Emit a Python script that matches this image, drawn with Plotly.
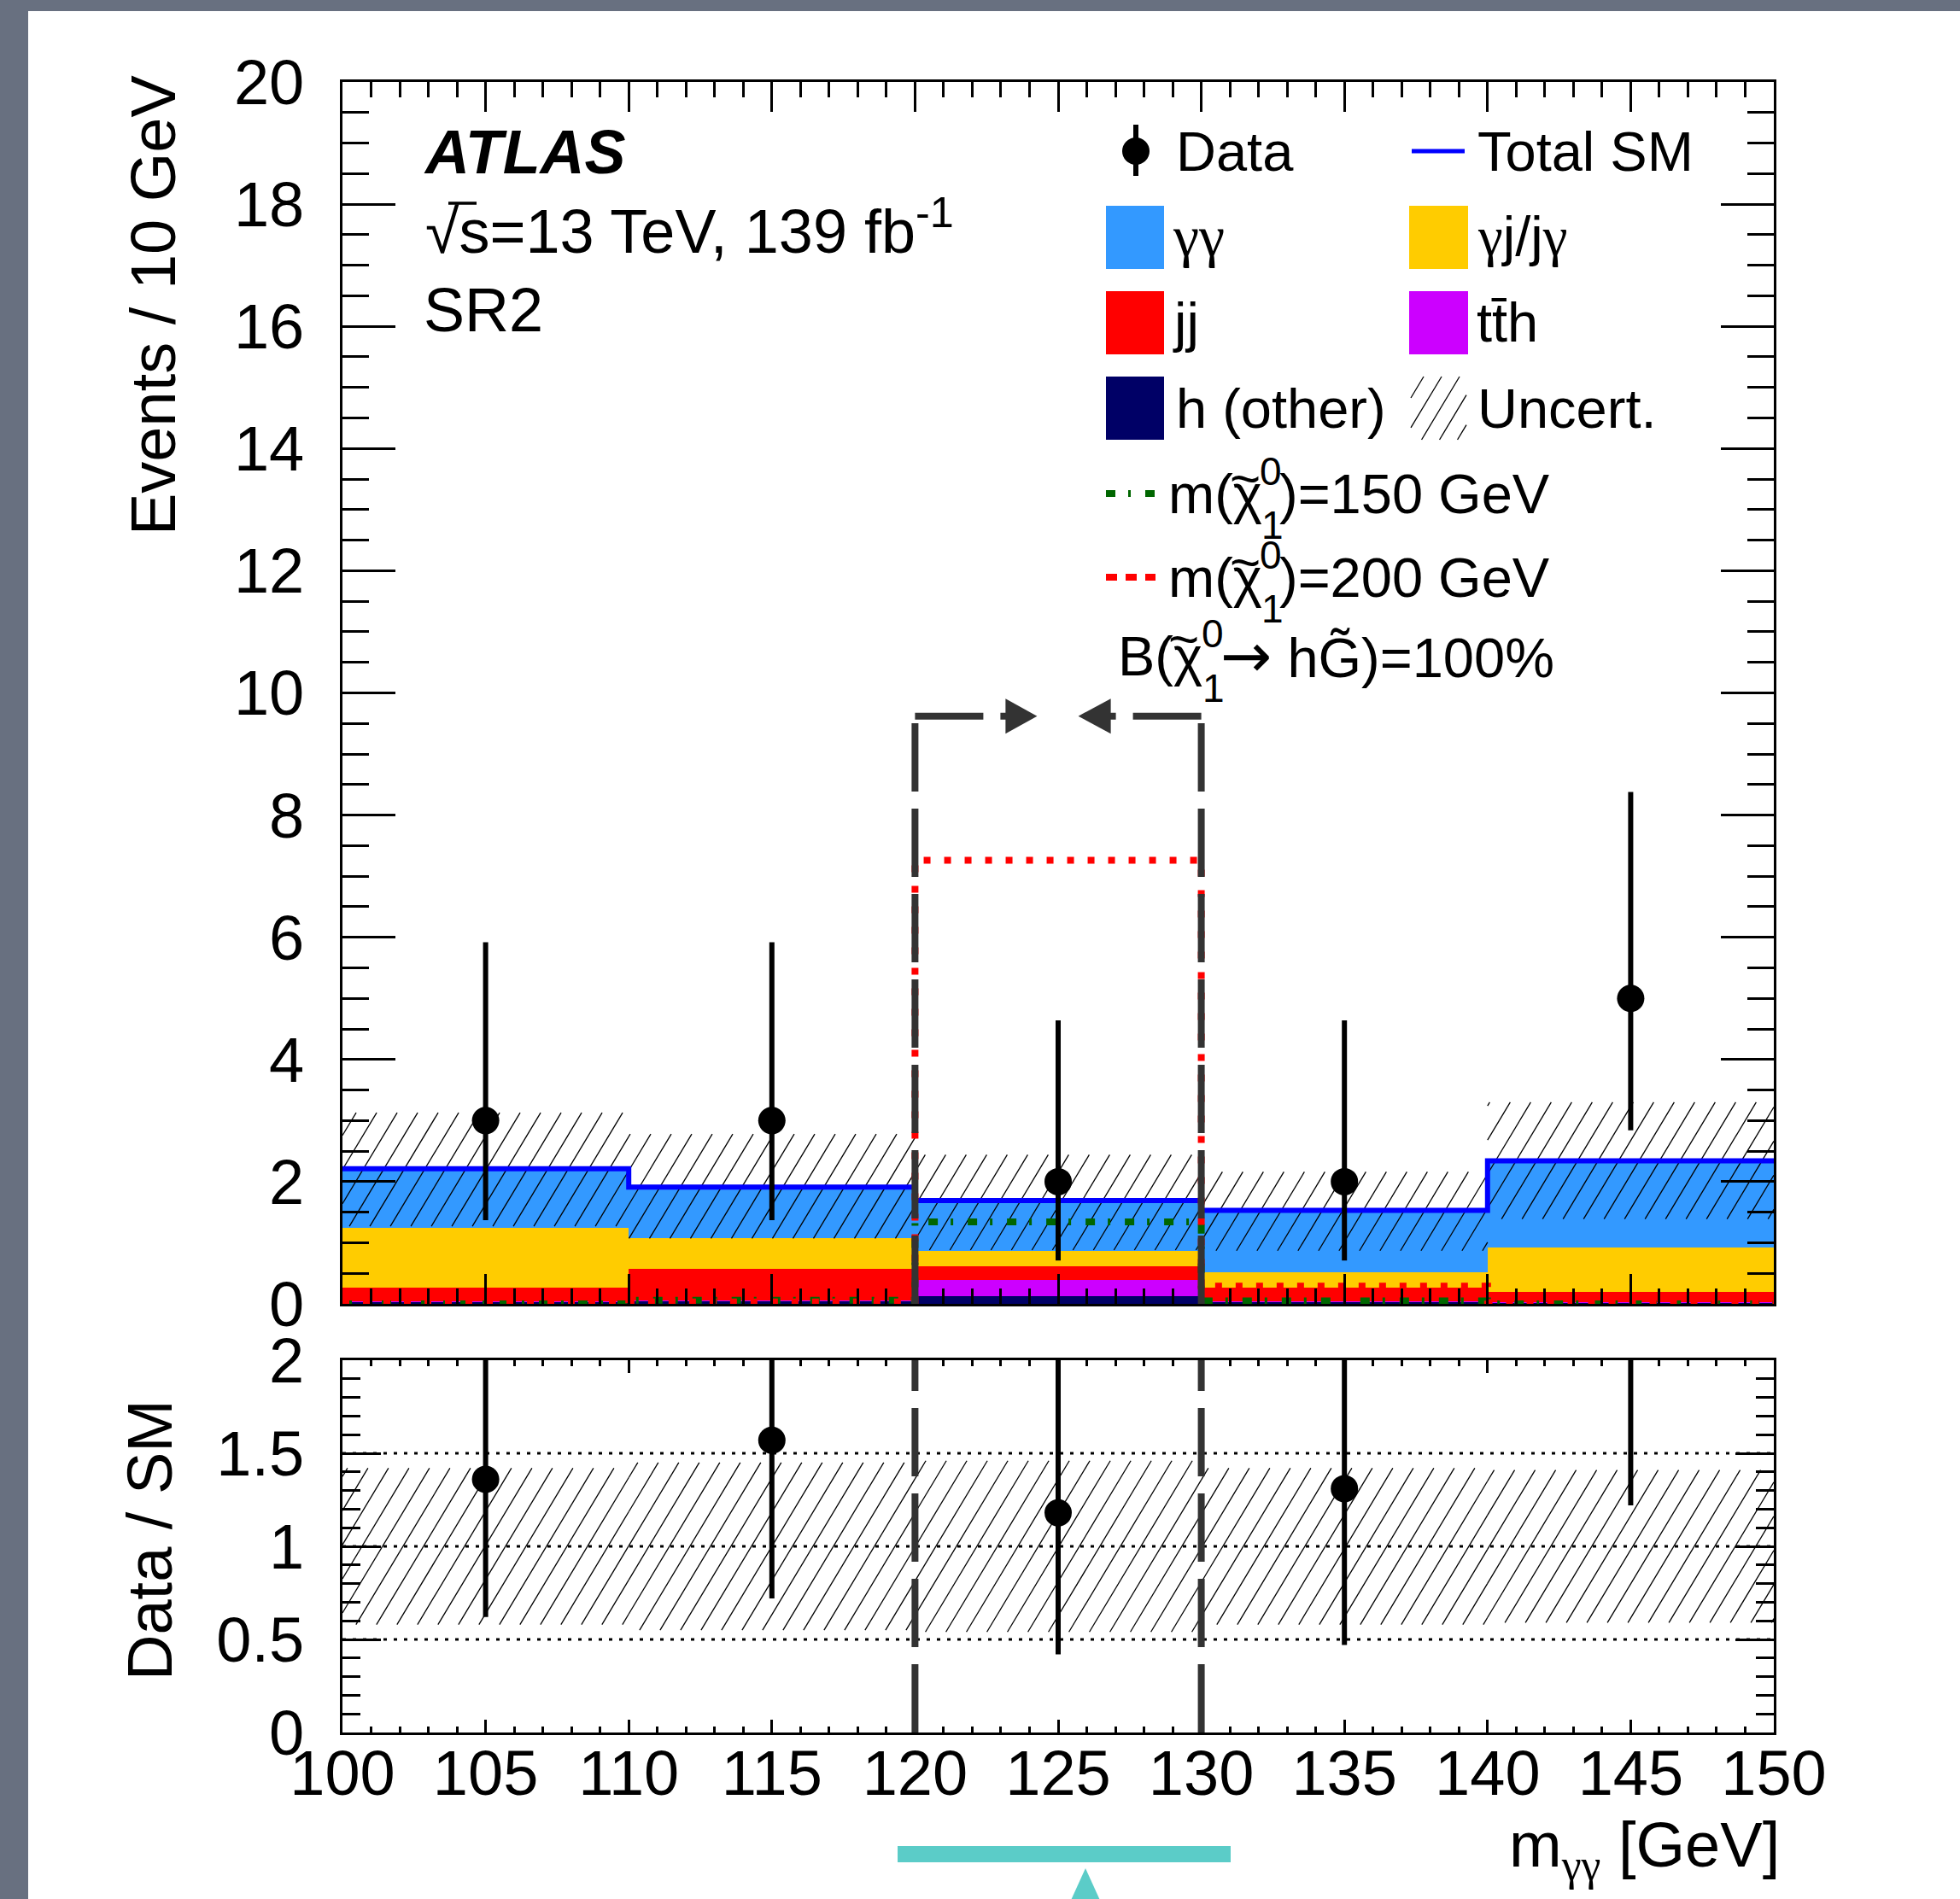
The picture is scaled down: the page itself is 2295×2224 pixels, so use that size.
import math
import plotly.graph_objects as go

# ---------------- data ----------------
bin_edges = [100, 110, 120, 130, 140, 150]
bin_centers = [105, 115, 125, 135, 145]
x_tick_vals = [100, 105, 110, 115, 120, 125, 130, 135, 140, 145, 150]

h_other = [0.03, 0.05, 0.12, 0.03, 0.02]
tth = [0.01, 0.01, 0.27, 0.01, 0.01]
jj = [0.23, 0.52, 0.22, 0.23, 0.17]
gj = [0.98, 0.49, 0.25, 0.25, 0.72]
gg = [0.96, 0.84, 0.83, 1.01, 1.42]
total_sm = [2.21, 1.91, 1.69, 1.53, 2.34]
unc_lo = [1.27, 1.07, 0.88, 0.87, 1.39]
unc_hi = [3.13, 2.78, 2.44, 2.16, 3.30]

data_vals = [3, 3, 2, 2, 5]
data_err_up = [2.92, 2.92, 2.64, 2.64, 3.38]
data_err_dn = [1.63, 1.63, 1.29, 1.29, 2.16]

sig150 = [0.0, 0.06, 1.34, 0.05, 0.0]
sig200 = [0.0, 0.03, 7.26, 0.29, 0.02]

ratio_vals = [1.36, 1.57, 1.18, 1.31, 2.14]
ratio_err_up = [1.32, 1.53, 1.56, 1.73, 1.44]
ratio_err_dn = [0.74, 0.85, 0.76, 0.84, 0.92]
ratio_unc = [0.42, 0.45, 0.46, 0.42, 0.41]
ratio_ref = [0.5, 1.0, 1.5]

window = [120, 130]
window_top = 9.62

Y_MAX = 20
R_MAX = 2

# ---------------- layout constants (pixels) ----------------
W, H = 2295, 2224
XL, XR = 401, 2077
MT, MB = 96, 1527
RT, RB = 1593, 2029
X0, X1 = x_tick_vals[0], x_tick_vals[-1]
FONT = "Liberation Sans, Arial, Helvetica, sans-serif"
SERIF = "Liberation Serif"

C_GG = "#3399FF"
C_GJ = "#FFCC00"
C_JJ = "#FF0000"
C_TTH = "#CC00FF"
C_HO = "#000066"
C_SM = "#0000FF"
C_S150 = "#006600"
C_S200 = "#FF0000"
C_WIN = "#333333"


def mpx(x):
    return XL + (x - X0) / (X1 - X0) * (XR - XL)


def mx(px):
    return X0 + (px - XL) / (XR - XL) * (X1 - X0)


def mpy(v):
    return MB - v / Y_MAX * (MB - MT)


def my(py):
    return (MB - py) / (MB - MT) * Y_MAX


def rpy(v):
    return RB - v / R_MAX * (RB - RT)


def ry(py):
    return (RB - py) / (RB - RT) * R_MAX


def px_x(px):
    return px / W


def px_y(py):
    return 1 - py / H


def hatch_px(x0, x1, y0, y1, s=24, ang=59):
    m = math.tan(math.radians(ang))
    segs = []
    umin = x0 + y0 / m
    umax = x1 + y1 / m
    for k in range(math.ceil(umin / s), math.floor(umax / s) + 1):
        u = k * s
        ya = max(y0, m * (u - x1))
        yb = min(y1, m * (u - x0))
        if yb > ya:
            segs.append(((u - ya / m, ya), (u - yb / m, yb)))
    return segs


fig = go.Figure()

# ---------------- stacked backgrounds ----------------
for vals, col in [(h_other, C_HO), (tth, C_TTH), (jj, C_JJ), (gj, C_GJ), (gg, C_GG)]:
    fig.add_trace(go.Bar(x=bin_centers, y=vals, width=10, marker=dict(color=col, line=dict(width=0)),
                         xaxis="x", yaxis="y", showlegend=False, hoverinfo="skip"))

# ---------------- hatched uncertainty (main + legend box) ----------------
hx, hy = [], []
for i in range(len(bin_centers)):
    for a, b in hatch_px(mpx(bin_edges[i]), mpx(bin_edges[i + 1]), mpy(unc_hi[i]), mpy(unc_lo[i])):
        hx += [mx(a[0]), mx(b[0]), None]
        hy += [my(a[1]), my(b[1]), None]
for a, b in hatch_px(1652, 1717, 441, 515, s=21):
    hx += [mx(a[0]), mx(b[0]), None]
    hy += [my(a[1]), my(b[1]), None]
fig.add_trace(go.Scatter(x=hx, y=hy, mode="lines", line=dict(color="black", width=1.3),
                         xaxis="x", yaxis="y", showlegend=False, hoverinfo="skip"))

# ---------------- total SM ----------------
fig.add_trace(go.Scatter(x=bin_edges, y=total_sm + [total_sm[-1]], mode="lines", line_shape="hv",
                         line=dict(color=C_SM, width=6), xaxis="x", yaxis="y",
                         showlegend=False, hoverinfo="skip"))

# ---------------- signals ----------------
fig.add_trace(go.Scatter(x=bin_edges, y=sig150 + [sig150[-1]], mode="lines", line_shape="hv",
                         line=dict(color=C_S150, width=8, dash="11px,15px,3px,17px"),
                         xaxis="x", yaxis="y", showlegend=False, hoverinfo="skip"))
fig.add_trace(go.Scatter(x=bin_edges, y=sig200 + [sig200[-1]], mode="lines", line_shape="hv",
                         line=dict(color=C_S200, width=8, dash="8px,16px"),
                         xaxis="x", yaxis="y", showlegend=False, hoverinfo="skip"))

# ---------------- data ----------------
fig.add_trace(go.Scatter(x=bin_centers, y=data_vals, mode="markers",
                         marker=dict(color="black", size=32, line=dict(width=0)),
                         error_y=dict(type="data", symmetric=False, array=data_err_up,
                                      arrayminus=data_err_dn, color="black", thickness=6, width=0),
                         xaxis="x", yaxis="y", showlegend=False, hoverinfo="skip"))

# ---------------- ratio panel ----------------
rhx, rhy = [], []
for i in range(len(bin_centers)):
    for a, b in hatch_px(mpx(bin_edges[i]), mpx(bin_edges[i + 1]),
                         rpy(1 + ratio_unc[i]), rpy(1 - ratio_unc[i])):
        rhx += [mx(a[0]), mx(b[0]), None]
        rhy += [ry(a[1]), ry(b[1]), None]
fig.add_trace(go.Scatter(x=rhx, y=rhy, mode="lines", line=dict(color="black", width=1.3),
                         xaxis="x2", yaxis="y2", showlegend=False, hoverinfo="skip"))
for r in ratio_ref:
    fig.add_trace(go.Scatter(x=[X0, X1], y=[r, r], mode="lines",
                             line=dict(color="black", width=3, dash="4px,8px"),
                             xaxis="x2", yaxis="y2", showlegend=False, hoverinfo="skip"))
fig.add_trace(go.Scatter(x=bin_centers, y=ratio_vals, mode="markers",
                         marker=dict(color="black", size=32, line=dict(width=0)),
                         error_y=dict(type="data", symmetric=False, array=ratio_err_up,
                                      arrayminus=ratio_err_dn, color="black", thickness=6, width=0),
                         xaxis="x2", yaxis="y2", showlegend=False, hoverinfo="skip"))

# ---------------- shapes ----------------
shapes = []
WIN_DASH = "80px,20px"
for xw in window:
    shapes.append(dict(type="line", xref="x", yref="y", x0=xw, x1=xw, y0=0, y1=window_top,
                       line=dict(color=C_WIN, width=8, dash=WIN_DASH), layer="above"))
    shapes.append(dict(type="line", xref="x2", yref="y2", x0=xw, x1=xw, y0=0, y1=R_MAX,
                       line=dict(color=C_WIN, width=8, dash=WIN_DASH), layer="above"))
# top arrows of the window
lo_px, hi_px = mpx(window[0]), mpx(window[1])
top_py = mpy(window_top)
shapes.append(dict(type="line", xref="x", yref="y", x0=window[0], x1=mx(lo_px + 108),
                   y0=window_top, y1=window_top, line=dict(color=C_WIN, width=8, dash=WIN_DASH)))
shapes.append(dict(type="line", xref="x", yref="y", x0=window[1], x1=mx(hi_px - 108),
                   y0=window_top, y1=window_top, line=dict(color=C_WIN, width=8, dash=WIN_DASH)))
for base, tip in [(lo_px + 106, lo_px + 143), (hi_px - 106, hi_px - 144)]:
    path = "M {:.4f},{:.4f} L {:.4f},{:.4f} L {:.4f},{:.4f} Z".format(
        mx(tip), window_top, mx(base), my(top_py - 20.5), mx(base), my(top_py + 20.5))
    shapes.append(dict(type="path", xref="x", yref="y", path=path,
                       fillcolor=C_WIN, line=dict(width=0)))


def prect(x0, y0, x1, y1, color):
    return dict(type="rect", xref="paper", yref="paper", x0=px_x(x0), x1=px_x(x1),
                y0=px_y(y1), y1=px_y(y0), fillcolor=color, line=dict(width=0), layer="above")


def pline(x0, y0, x1, y1, color, width, dash="solid"):
    return dict(type="line", xref="paper", yref="paper", x0=px_x(x0), x1=px_x(x1),
                y0=px_y(y0), y1=px_y(y1), line=dict(color=color, width=width, dash=dash))


# legend symbols
shapes.append(pline(1330, 146, 1330, 206, "black", 6))
shapes.append(dict(type="circle", xref="paper", yref="paper", x0=px_x(1314), x1=px_x(1346),
                   y0=px_y(193), y1=px_y(161), fillcolor="black", line=dict(width=0)))
shapes.append(pline(1653, 177, 1715, 177, C_SM, 5))
shapes.append(prect(1295, 241, 1363, 315, C_GG))
shapes.append(prect(1650, 241, 1719, 315, C_GJ))
shapes.append(prect(1295, 341, 1363, 415, C_JJ))
shapes.append(prect(1650, 341, 1719, 415, C_TTH))
shapes.append(prect(1295, 441, 1363, 515, C_HO))
shapes.append(pline(1295, 578, 1353, 578, C_S150, 8, "11px,15px,3px,17px"))
shapes.append(pline(1295, 676, 1353, 676, C_S200, 8, "13px,10px"))

# radical overbar of sqrt(s)
shapes.append(pline(525, 238, 558, 238, "black", 3.5))

# page decorations
shapes.append(prect(0, 0, W, 13, "#687080"))
shapes.append(prect(0, 0, 33, H, "#687080"))
shapes.append(prect(1051, 2162, 1441, 2181, "#5BCCC8"))
shapes.append(dict(type="path", xref="paper", yref="paper",
                   path="M {:.5f},{:.5f} L {:.5f},{:.5f} L {:.5f},{:.5f} Z".format(
                       px_x(1271), px_y(2188), px_x(1251), px_y(2232), px_x(1291), px_y(2232)),
                   fillcolor="#5BCCC8", line=dict(width=0)))

# ---------------- annotations ----------------
annotations = []


def txt(s, x, y, size, xanchor="left", yanchor="middle", **kw):
    annotations.append(dict(text=s, x=px_x(x), y=px_y(y), xref="paper", yref="paper",
                            xanchor=xanchor, yanchor=yanchor, showarrow=False,
                            font=dict(family=kw.pop("family", FONT), size=size, color="black"), **kw))


def g(s):
    return "<span style='font-family:" + SERIF + "'>" + s + "</span>"


txt("<b><i>ATLAS</i></b>", 494, 178, 72)
txt("\u221as=13 TeV, 139 fb<sup>-1</sup>", 496, 313, 72, yanchor="bottom")
txt("SR2", 494, 363, 72)

LS = 65
txt("Data", 1375, 177, LS)
txt("Total SM", 1728, 177, LS)
txt(g("\u03b3\u03b3"), 1371, 277, 68)
txt(g("\u03b3") + "j/j" + g("\u03b3"), 1728, 277, LS)
txt("jj", 1371, 377, LS)
txt("tt\u0304h", 1727, 377, LS)
txt("h (other)", 1375, 478, LS)
txt("Uncert.", 1728, 478, LS)

for yc, mass in [(578, "150"), (676, "200")]:
    txt("m(\u03c7", 1480, yc, LS, xanchor="right")
    txt("~", 1458, yc - 18, 62, xanchor="center")
    txt("0", 1473, yc - 26, 46)
    txt("1", 1475, yc + 37, 46)
    txt(")=" + mass + " GeV", 1496, yc, LS)

txt("B(\u03c7", 1410, 768, LS, xanchor="right")
txt("~", 1386, 748, 62, xanchor="center")
txt("0", 1405, 742, 46)
txt("1", 1406, 806, 46)
txt("<span style='font-family:DejaVu Sans;font-size:72px'>\u2192</span> hG\u0303)=100%", 1427, 768, LS)

txt("Events / 10 GeV", 179, 358, 74, xanchor="center", textangle=-90)
txt("Data / SM", 175, 1804, 74, xanchor="center", textangle=-90)
txt("m<sub>" + g("\u03b3\u03b3") + "</sub> [GeV]", 2086, 2117, 74, xanchor="right", yanchor="top")

# ---------------- axes ----------------
common = dict(showgrid=False, zeroline=False, showline=True, linecolor="black", linewidth=3,
              mirror="allticks", ticks="inside", tickcolor="black", tickwidth=3)

fig.update_layout(
    width=W, height=H, template="none", autosize=False,
    margin=dict(l=0, r=0, t=0, b=0, pad=0),
    paper_bgcolor="white", plot_bgcolor="white",
    showlegend=False, barmode="stack", hovermode=False,
    xaxis=dict(domain=[px_x(XL), px_x(XR)], range=[X0, X1], anchor="y",
               tickvals=x_tick_vals, ticklen=35, showticklabels=False,
               minor=dict(dtick=1, tick0=X0, ticks="inside", ticklen=18, tickwidth=3,
                          tickcolor="black", showgrid=False), **common),
    yaxis=dict(domain=[px_y(MB), px_y(MT)], range=[0, Y_MAX], anchor="x",
               tick0=0, dtick=2, ticklen=62,
               tickfont=dict(family=FONT, size=74, color="black"), ticklabelstandoff=27,
               minor=dict(dtick=0.5, tick0=0, ticks="inside", ticklen=31, tickwidth=3,
                          tickcolor="black", showgrid=False), **common),
    xaxis2=dict(domain=[px_x(XL), px_x(XR)], range=[X0, X1], anchor="y2",
                tickvals=x_tick_vals, ticktext=[str(v) for v in x_tick_vals], ticklen=15,
                tickfont=dict(family=FONT, size=74, color="black"), ticklabelstandoff=-19,
                minor=dict(dtick=1, tick0=X0, ticks="inside", ticklen=7, tickwidth=3,
                           tickcolor="black", showgrid=False), **common),
    yaxis2=dict(domain=[px_y(RB), px_y(RT)], range=[0, R_MAX], anchor="x2",
                tickvals=[0, 0.5, 1, 1.5, 2], ticktext=["0", "0.5", "1", "1.5", "2"], ticklen=45,
                tickfont=dict(family=FONT, size=74, color="black"), ticklabelstandoff=27,
                minor=dict(dtick=0.1, tick0=0, ticks="inside", ticklen=21, tickwidth=3,
                           tickcolor="black", showgrid=False), **common),
    shapes=shapes,
    annotations=annotations,
)

fig.write_html("out.html", config={"displayModeBar": False},
               post_script="document.body.style.margin='0';document.body.style.padding='0';"
                           "document.body.style.overflow='hidden';")
